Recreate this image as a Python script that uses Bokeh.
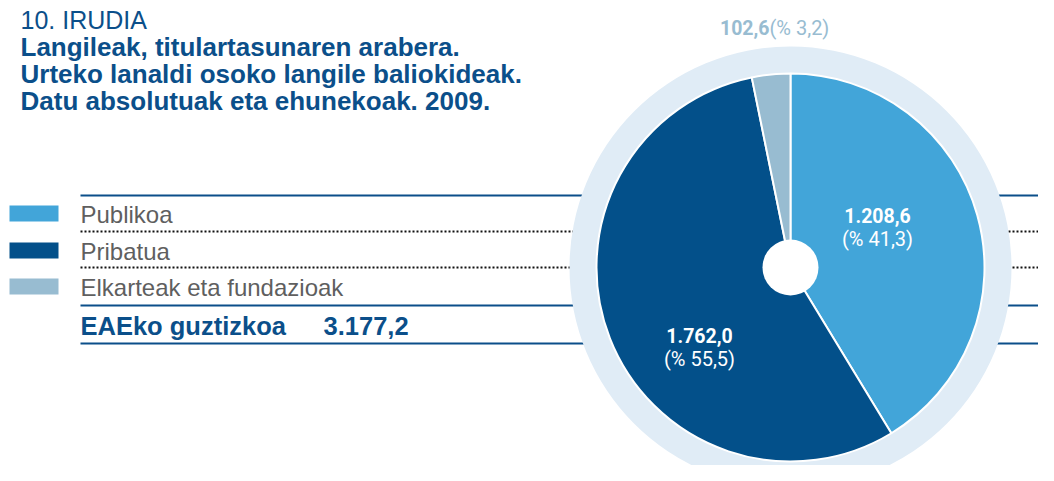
import math
from bokeh.plotting import figure
from bokeh.models import Range1d
from bokeh.core.properties import value
from bokeh.embed import file_html
from bokeh.resources import INLINE

# ---- data ----
categories = ["Publikoa", "Pribatua", "Elkarteak eta fundazioak"]
values = [1208.6, 1762.0, 102.6]
percents = [41.3, 55.5, 3.2]
value_labels = ["1.208,6", "1.762,0", "102,6"]
pct_labels = ["(% 41,3)", "(% 55,5)", "(% 3,2)"]
total_text = "EAEko guztizkoa"
total_value = "3.177,2"
fig_no = "10. IRUDIA"
title_lines = ["Langileak, titulartasunaren arabera.",
               "Urteko lanaldi osoko langile baliokideak.",
               "Datu absolutuak eta ehunekoak. 2009."]

# ---- style ----
colors = ["#42a5d9", "#03508a", "#98bcd1"]
DARK = "#0b4f8a"
RING = "#e0ecf6"
GREY = "#5f5f5f"
H = 481  # reference pixel height; y data = H - pixel row

W_FIG, H_FIG = 1038, 465
p = figure(width=W_FIG, height=H_FIG, output_backend="svg", toolbar_location=None,
           x_range=Range1d(0, W_FIG), y_range=Range1d(H - H_FIG, H),
           x_axis_location=None, y_axis_location=None, min_border=0)
p.grid.visible = False
p.outline_line_color = None
p.background_fill_color = "white"

def Y(row):
    return H - row

FONT = value("Liberation Sans")
NARROW = value("Roboto")

# horizontal rules behind the pie
for row in [195, 305, 343]:
    p.line([80, 1060], [Y(row), Y(row)], line_color=DARK, line_width=2.2)
for row in [231, 267]:
    p.line([80, 1060], [Y(row), Y(row)], line_color="#111111", line_width=2, line_dash="2 2")

# pie
cx, cy = 790, Y(267)
p.circle(x=[cx], y=[cy], radius=221, fill_color=RING, line_color=None)
total_pct = sum(percents)
cum = 0.0
starts, ends = [], []
for pc in percents:
    c0 = cum / total_pct
    cum += pc
    c1 = cum / total_pct
    ends.append(math.pi / 2 - c0 * 2 * math.pi)
    starts.append(math.pi / 2 - c1 * 2 * math.pi)
p.wedge(x=[cx] * 3, y=[cy] * 3, radius=194, start_angle=starts, end_angle=ends,
        direction="anticlock", fill_color=colors, line_color="white", line_width=2)
p.circle(x=[cx], y=[cy], radius=28, fill_color="white", line_color=None)

# pie labels
p.text(x=[877, 699], y=[Y(215), Y(335)], text=value_labels[:2], text_color="white",
       text_font=NARROW, text_font_style="bold", text_font_size="19.5px",
       text_align="center", text_baseline="middle")
p.text(x=[877, 699], y=[Y(238), Y(358)], text=pct_labels[:2], text_color="white",
       text_font=NARROW, text_font_size="20px",
       text_align="center", text_baseline="middle")
p.text(x=[769], y=[Y(27)], text=[value_labels[2]], text_color=colors[2],
       text_font=NARROW, text_font_style="bold", text_font_size="19.5px",
       text_align="right", text_baseline="middle")
p.text(x=[769], y=[Y(27)], text=[pct_labels[2]], text_color=colors[2],
       text_font=NARROW, text_font_size="20px",
       text_align="left", text_baseline="middle")

# title
p.text(x=[20], y=[Y(19)], text=[fig_no], text_color=DARK, text_font=FONT,
       text_font_size="25px", text_baseline="middle")
p.text(x=[20] * 3, y=[Y(46), Y(73), Y(100)], text=title_lines, text_color=DARK,
       text_font=FONT, text_font_style="bold", text_font_size="26px",
       text_baseline="middle")

# legend
sw_rows = [213, 250, 286]
p.quad(left=[9] * 3, right=[58] * 3, bottom=[Y(r + 8) for r in sw_rows],
       top=[Y(r - 8) for r in sw_rows], fill_color=colors, line_color=None)
p.text(x=[80] * 3, y=[Y(r + 1) for r in sw_rows], text=categories, text_color=GREY,
       text_font=FONT, text_font_size="24px", text_baseline="middle")
p.text(x=[80], y=[Y(325)], text=[total_text], text_color=DARK, text_font=FONT,
       text_font_style="bold", text_font_size="25.5px", text_baseline="middle")
p.text(x=[323], y=[Y(325)], text=[total_value], text_color=DARK, text_font=FONT,
       text_font_style="bold", text_font_size="25.5px", text_baseline="middle")

open("out.html", "w").write(file_html(p, INLINE))
